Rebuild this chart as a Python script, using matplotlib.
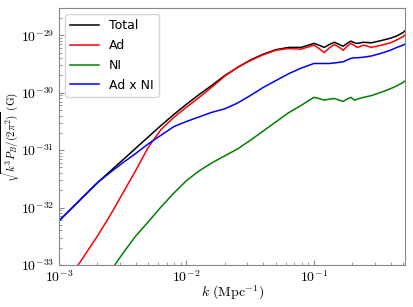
import numpy as np
import matplotlib
matplotlib.use('Agg')
import matplotlib.pyplot as plt
from matplotlib.ticker import FuncFormatter

plt.rcParams['mathtext.fontset'] = 'cm'

# log10(k / Mpc^-1)
log_k = [-3.0, -2.85, -2.7, -2.6, -2.5, -2.4, -2.3, -2.2, -2.1, -2.0,
         -1.9, -1.8, -1.7, -1.6, -1.5, -1.4, -1.3, -1.2, -1.1, -1.0,
         -0.96, -0.92, -0.88, -0.84, -0.80, -0.77, -0.74, -0.71, -0.68, -0.66,
         -0.61, -0.55, -0.47, -0.40, -0.35, -0.30, -0.275]

# log10 of sqrt(k^3 P_B / 2pi^2) in Gauss
log_total = [-32.23, -31.90, -31.57, -31.37, -31.17, -30.97, -30.77, -30.57, -30.38, -30.20,
             -30.03, -29.87, -29.70, -29.56, -29.43, -29.33, -29.25, -29.21, -29.21, -29.14,
             -29.17, -29.21, -29.16, -29.12, -29.16, -29.19, -29.14, -29.10, -29.13, -29.14,
             -29.12, -29.13, -29.09, -29.05, -29.01, -28.95, -28.90]
log_ad = [-33.55, -33.00, -32.50, -32.14, -31.75, -31.36, -30.95, -30.64, -30.43, -30.25,
          -30.08, -29.90, -29.71, -29.56, -29.44, -29.34, -29.26, -29.23, -29.24, -29.17,
          -29.23, -29.30, -29.22, -29.16, -29.21, -29.26, -29.19, -29.14, -29.18, -29.21,
          -29.17, -29.21, -29.17, -29.13, -29.08, -29.02, -28.97]
log_ni = [-34.50, -33.95, -33.45, -33.12, -32.80, -32.50, -32.25, -31.99, -31.75, -31.53,
          -31.36, -31.22, -31.10, -30.98, -30.83, -30.67, -30.51, -30.35, -30.22, -30.08,
          -30.10, -30.13, -30.11, -30.10, -30.13, -30.15, -30.11, -30.08, -30.13, -30.11,
          -30.08, -30.05, -29.99, -29.93, -29.88, -29.82, -29.78]
log_adni = [-32.23, -31.90, -31.57, -31.39, -31.22, -31.06, -30.89, -30.74, -30.59, -30.50,
            -30.42, -30.34, -30.28, -30.18, -30.05, -29.91, -29.79, -29.67, -29.57, -29.49,
            -29.49, -29.49, -29.49, -29.48, -29.47, -29.46, -29.43, -29.40, -29.39, -29.39,
            -29.38, -29.36, -29.31, -29.26, -29.21, -29.17, -29.14]

# decadas marcadas nos eixos
xticks = [1e-3, 1e-2, 1e-1]
yticks = [1e-33, 1e-32, 1e-31, 1e-30, 1e-29]

k = 10.0 ** np.array(log_k)
series = [
    ('Total', log_total, 'black'),
    ('Ad', log_ad, 'red'),
    ('NI', log_ni, 'green'),
    ('Ad x NI', log_adni, 'blue'),
]

fig = plt.figure(figsize=(4.13, 3.07), dpi=100)
ax = fig.add_axes([0.143, 0.137, 0.838, 0.837])

for nome, valores, cor in series:
    ax.plot(k, 10.0 ** np.array(valores), color=cor, lw=1.1, label=nome)

ax.set_xscale('log')
ax.set_yscale('log')
ax.set_xticks(xticks)
ax.set_yticks(yticks)
ax.set_xlim(1e-3, 0.52)
ax.set_ylim(1e-33, 3e-29)

fmt = FuncFormatter(lambda v, pos: r'$10^{%d}$' % round(np.log10(v)))
ax.xaxis.set_major_formatter(fmt)
ax.yaxis.set_major_formatter(fmt)

ax.set_xlabel(r'$k\ (\mathrm{Mpc}^{-1})$', fontsize=10, labelpad=-1)
ax.set_ylabel(r'$\sqrt{k^3 P_B/(2\pi^2)}\ (\mathrm{G})$', fontsize=8)
ax.yaxis.set_label_coords(-0.108, 0.5)

for s in ax.spines.values():
    s.set_color('#888888')
ax.tick_params(which='both', direction='in', colors='#888888', labelcolor='black', labelsize=10)

ax.legend(loc='upper left', fontsize=9, handlelength=2.3, labelspacing=0.55)

fig.savefig('out.png', dpi=100)
